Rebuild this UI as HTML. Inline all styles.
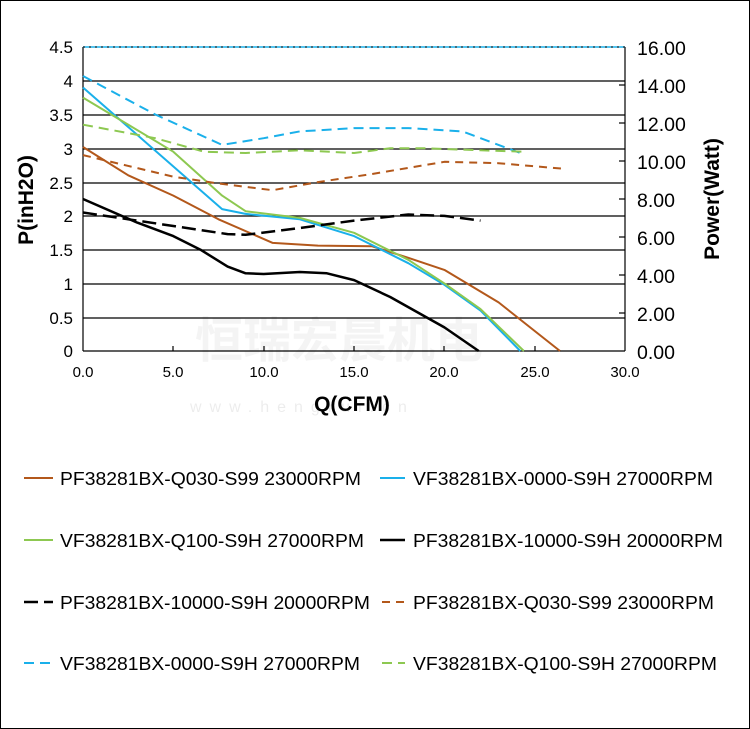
<!DOCTYPE html>
<html><head><meta charset="utf-8"><style>
body{margin:0;background:#fff}
svg{display:block;font-family:"Liberation Sans",Arial,sans-serif}
</style></head><body>
<svg id="s" width="750" height="729" xmlns="http://www.w3.org/2000/svg">
<rect x="0.5" y="0.5" width="749" height="728" fill="#fff" stroke="#000"/>
<g stroke="#000" stroke-width="1.2">
<line x1="83" y1="81" x2="625" y2="81"/><line x1="83" y1="115" x2="625" y2="115"/>
<line x1="83" y1="149" x2="625" y2="149"/><line x1="83" y1="183" x2="625" y2="183"/>
<line x1="83" y1="216" x2="625" y2="216"/><line x1="83" y1="250" x2="625" y2="250"/>
<line x1="83" y1="284" x2="625" y2="284"/><line x1="83" y1="318" x2="625" y2="318"/>
<line x1="83" y1="47" x2="83" y2="351"/><line x1="625" y1="47" x2="625" y2="351"/>
<line x1="83" y1="351" x2="625" y2="351"/>
<line x1="173" y1="346" x2="173" y2="351"/><line x1="264" y1="346" x2="264" y2="351"/>
<line x1="354" y1="346" x2="354" y2="351"/><line x1="444" y1="346" x2="444" y2="351"/>
<line x1="535" y1="346" x2="535" y2="351"/>
<line x1="619" y1="85" x2="625" y2="85"/><line x1="619" y1="123" x2="625" y2="123"/>
<line x1="619" y1="161" x2="625" y2="161"/><line x1="619" y1="199" x2="625" y2="199"/>
<line x1="619" y1="237" x2="625" y2="237"/><line x1="619" y1="275" x2="625" y2="275"/>
<line x1="619" y1="313" x2="625" y2="313"/>
</g>
<line x1="83" y1="47" x2="625" y2="47" stroke="#1ab0ea" stroke-width="1.5"/>
<line x1="83" y1="47" x2="625" y2="47" stroke="#000" stroke-width="1" stroke-dasharray="2 4"/>
<g font-size="17" fill="#000" text-anchor="end">
<text x="73" y="53">4.5</text><text x="73" y="87">4</text><text x="73" y="121">3.5</text>
<text x="73" y="155">3</text><text x="73" y="189">2.5</text><text x="73" y="222">2</text>
<text x="73" y="256">1.5</text><text x="73" y="290">1</text><text x="73" y="324">0.5</text>
<text x="73" y="357">0</text>
</g>
<g font-size="19.5" fill="#000">
<text x="637" y="55">16.00</text><text x="637" y="93">14.00</text><text x="637" y="131">12.00</text>
<text x="637" y="169">10.00</text><text x="637" y="207">8.00</text><text x="637" y="245">6.00</text>
<text x="637" y="283">4.00</text><text x="637" y="321">2.00</text><text x="637" y="359">0.00</text>
</g>
<g font-size="15" fill="#000" text-anchor="middle">
<text x="83" y="377">0.0</text><text x="173" y="377">5.0</text><text x="264" y="377">10.0</text>
<text x="354" y="377">15.0</text><text x="444" y="377">20.0</text><text x="535" y="377">25.0</text>
<text x="625" y="377">30.0</text>
</g>
<text x="195" y="357" font-size="48" font-weight="bold" fill="#000" opacity="0.04" font-family="Noto Sans CJK SC,sans-serif">恒瑞宏晨机电</text>
<text x="190" y="412" font-size="16" fill="#000" opacity="0.07" letter-spacing="8">www.hengrui.cn</text>
<text x="352" y="411" font-size="21" font-weight="bold" text-anchor="middle">Q(CFM)</text>
<text transform="translate(33,200) rotate(-90)" font-size="21" font-weight="bold" text-anchor="middle">P(inH2O)</text>
<text transform="translate(719,199) rotate(-90)" font-size="21" font-weight="bold" text-anchor="middle">Power(Watt)</text>
<g id="curves" fill="none" stroke-width="2" stroke-linejoin="round"></g>
<g font-size="18" fill="#000">
<line x1="24" y1="478" x2="53" y2="478" stroke="#b3581b" stroke-width="2"/><text x="60" y="485" textLength="301" lengthAdjust="spacingAndGlyphs">PF38281BX-Q030-S99 23000RPM</text>
<line x1="380" y1="478" x2="405" y2="478" stroke="#1ab0ea" stroke-width="2"/><text x="413" y="485" textLength="300" lengthAdjust="spacingAndGlyphs">VF38281BX-0000-S9H 27000RPM</text>
<line x1="24" y1="540" x2="53" y2="540" stroke="#8dc851" stroke-width="2"/><text x="60" y="547" textLength="304" lengthAdjust="spacingAndGlyphs">VF38281BX-Q100-S9H 27000RPM</text>
<line x1="380" y1="540" x2="405" y2="540" stroke="#000" stroke-width="2.5"/><text x="413" y="547" textLength="310" lengthAdjust="spacingAndGlyphs">PF38281BX-10000-S9H 20000RPM</text>
<line x1="24" y1="602" x2="53" y2="602" stroke="#000" stroke-width="2.5" stroke-dasharray="14 6"/><text x="60" y="609" textLength="310" lengthAdjust="spacingAndGlyphs">PF38281BX-10000-S9H 20000RPM</text>
<line x1="382" y1="602" x2="405" y2="602" stroke="#b3581b" stroke-width="2" stroke-dasharray="8 6"/><text x="413" y="609" textLength="301" lengthAdjust="spacingAndGlyphs">PF38281BX-Q030-S99 23000RPM</text>
<line x1="24" y1="663" x2="53" y2="663" stroke="#1ab0ea" stroke-width="2" stroke-dasharray="10 6"/><text x="60" y="670" textLength="300" lengthAdjust="spacingAndGlyphs">VF38281BX-0000-S9H 27000RPM</text>
<line x1="382" y1="663" x2="405" y2="663" stroke="#8dc851" stroke-width="2" stroke-dasharray="10 6"/><text x="413" y="670" textLength="304" lengthAdjust="spacingAndGlyphs">VF38281BX-Q100-S9H 27000RPM</text>
</g>
</svg>
<script>
var S=[
["#b3581b","",2,[[0,3.02],[2.5,2.6],[5,2.3],[7.5,1.95],[10.5,1.6],[13,1.56],[16,1.55],[18,1.38],[20,1.2],[23,0.72],[26.4,0]]],
["#1ab0ea","",2,[[0,3.9],[7.7,2.1],[9,2.03],[12,1.95],[15,1.7],[18,1.3],[20,0.98],[22,0.6],[24.2,0]]],
["#8dc851","",2,[[0,3.75],[5,2.95],[7.7,2.3],[9,2.07],[12,1.97],[15,1.75],[18,1.35],[20,1.0],[22,0.62],[24.4,0]]],
["#000","",2.5,[[0,2.25],[3,1.9],[5,1.7],[6.5,1.5],[8,1.25],[9,1.15],[10,1.14],[12,1.17],[13.5,1.15],[15,1.05],[17,0.8],[20,0.35],[21.9,0]]],
["#000","14 6",2.5,[[0,2.05],[5,1.85],[8,1.73],[9,1.72],[12,1.82],[15,1.93],[18,2.02],[20,2.0],[22,1.93]]],
["#b3581b","8 6",2,[[0,2.9],[5,2.58],[7.5,2.48],[10.5,2.38],[13,2.5],[16,2.62],[20,2.8],[23,2.78],[26.5,2.7]]],
["#1ab0ea","10 6",2,[[0,4.07],[4,3.5],[7.7,3.05],[10,3.15],[12,3.25],[15,3.3],[18,3.3],[21,3.25],[24.3,2.92]]],
["#8dc851","10 6",2,[[0,3.35],[4,3.15],[6.7,2.95],[9,2.93],[12,2.97],[15,2.93],[17,3.0],[19,3.0],[22,2.97],[24.5,2.95]]]
];
var g=document.getElementById("curves"),h="";
S.forEach(function(s){var p=s[3].map(function(d){return (83+d[0]*18.07).toFixed(1)+","+(351-d[1]*67.56).toFixed(1)}).join(" ");
h+='<polyline points="'+p+'" stroke="'+s[0]+'" stroke-width="'+s[2]+'"'+(s[1]?' stroke-dasharray="'+s[1]+'"':'')+'/>';});
g.innerHTML=h;
</script>
</body></html>
